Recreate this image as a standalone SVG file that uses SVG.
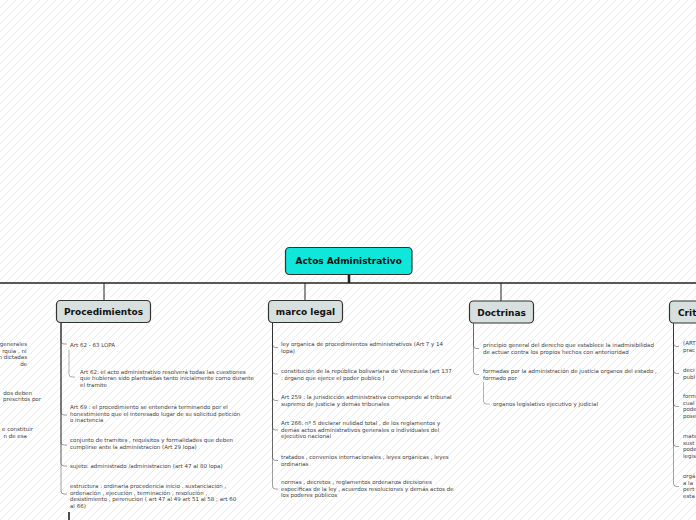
<svg xmlns="http://www.w3.org/2000/svg" width="696" height="520" viewBox="0 0 696 520">
<defs>
<pattern id="hatch" patternUnits="userSpaceOnUse" width="8" height="8">
<path d="M-2,2 L2,-2 M0,8 L8,0 M6,10 L10,6" stroke="#e8e8e8" stroke-width="0.8"/>
</pattern>
<style>
.main{fill:#d7dfdf;stroke:#333;stroke-width:1.2}
.root{fill:#10e6da;stroke:#333;stroke-width:1.2}
.nt{font-family:"DejaVu Sans",Verdana,sans-serif;font-weight:bold;font-size:9px;fill:#111;text-anchor:middle}
.t{font-family:"DejaVu Sans",Verdana,sans-serif;font-size:5.5px;fill:#444}
.te{font-family:"DejaVu Sans",Verdana,sans-serif;font-size:5.5px;fill:#444;text-anchor:end}
.c{fill:none;stroke:rgba(45,45,45,0.45);stroke-width:1}
.sc{fill:none;stroke:rgba(60,60,60,0.4);stroke-width:1}
.hl{fill:none;stroke:#222}
</style>
</defs>
<rect width="696" height="520" fill="#fff"/>
<rect width="696" height="520" fill="url(#hatch)"/>

<g id="connectors">
<path class="hl" stroke-width="1.6" d="M0,283 H696"/>
<path class="hl" stroke-width="2.6" d="M349,275 V283"/>
<path class="hl" stroke-width="1" d="M104,283 V301 M305,283 V301 M501,283 V301"/>
<!-- Procedimientos -->
<path class="c" d="M61,322 V341 Q61,344 64,344 H67"/>
<path class="c" d="M61,322 V412 Q61,415 64,415 H67"/>
<path class="c" d="M61,322 V442 Q61,445 64,445 H67"/>
<path class="c" d="M61,322 V463 Q61,466 64,466 H67"/>
<path class="c" d="M61,322 V491 Q61,494 64,494 H67"/>
<path class="sc" d="M69,350 V374 Q69,377 72,377 H75"/>
<path class="hl" stroke-width="1.6" d="M69,512 V520"/>
<!-- marco legal -->
<path class="c" d="M272.5,322 V344.5 Q272.5,347.5 275.5,347.5 H278"/>
<path class="c" d="M272.5,322 V371 Q272.5,374 275.5,374 H278"/>
<path class="c" d="M272.5,322 V397.5 Q272.5,400.5 275.5,400.5 H278"/>
<path class="c" d="M272.5,322 V427 Q272.5,430 275.5,430 H278"/>
<path class="c" d="M272.5,322 V457.5 Q272.5,460.5 275.5,460.5 H278"/>
<path class="c" d="M272.5,322 V486 Q272.5,489 275.5,489 H278"/>
<!-- Doctrinas -->
<path class="c" d="M473.5,323 V345.5 Q473.5,348.5 476.5,348.5 H479"/>
<path class="c" d="M473.5,323 V371.5 Q473.5,374.5 476.5,374.5 H479"/>
<path class="sc" d="M483.5,382 V401 Q483.5,404 486.5,404 H490"/>
<!-- Crit -->
<path class="c" d="M673.5,323 V343.5 Q673.5,346.5 676.5,346.5 H679"/>
<path class="c" d="M673.5,323 V370.5 Q673.5,373.5 676.5,373.5 H679"/>
<path class="c" d="M673.5,323 V403.5 Q673.5,406.5 676.5,406.5 H679"/>
<path class="c" d="M673.5,323 V443.5 Q673.5,446.5 676.5,446.5 H679"/>
<path class="c" d="M673.5,323 V483.5 Q673.5,486.5 676.5,486.5 H679"/>
</g>

<g id="root">
<rect class="root" x="285.5" y="247.5" width="126.5" height="27" rx="4"/>
<text class="nt" x="348.7" y="264.3">Actos Administrativo</text>
</g>

<g id="procedimientos">
<rect class="main" x="56.5" y="300.5" width="94" height="22" rx="4"/>
<text class="nt" x="103.5" y="315">Procedimientos</text>
</g>
<g id="marco-legal">
<rect class="main" x="268.5" y="300.5" width="74" height="22" rx="4"/>
<text class="nt" x="305.5" y="315">marco legal</text>
</g>
<g id="doctrinas">
<rect class="main" x="469.5" y="301" width="64" height="22" rx="4"/>
<text class="nt" x="501.5" y="315.5">Doctrinas</text>
</g>
<g id="crit">
<rect class="main" x="669.5" y="301" width="60" height="22" rx="4"/>
<text class="nt" x="678" y="315.5" style="text-anchor:start">Crit</text>
</g>

<g id="left-topics">
<text class="te" x="27" y="346">generales</text>
<text class="te" x="26.5" y="352.7">rquia , ni</text>
<text class="te" x="27" y="359.4">n dictadas</text>
<text class="te" x="27" y="366.1">de</text>
<text class="te" x="32" y="394.5">dos deben</text>
<text class="te" x="41" y="401.2">prescritos por</text>
<text class="te" x="33" y="431">e constituir</text>
<text class="te" x="27" y="437.7">n de esa</text>
</g>

<g id="p1"><text class="t" x="70" y="346.5">Art 62 - 63 LOPA</text></g>
<g id="p1a"><text class="t" x="80" y="373.5">Art 62: el acto administrativo resolverá todas las cuestiones<tspan x="80" dy="6.7">que hubieran sido planteadas tanto inicialmente como durante</tspan><tspan x="80" dy="6.7">el tramite</tspan></text></g>
<g id="p2"><text class="t" x="70" y="409">Art 69 : el procedimiento se entenderá terminando por el<tspan x="70" dy="6.7">honestimiento que el interesado lugar de su solicitud petición</tspan><tspan x="70" dy="6.7">o inactencia</tspan></text></g>
<g id="p3"><text class="t" x="70" y="442">conjunto de tramites , requisitos y formalidades que deben<tspan x="70" dy="6.7">cumplirse ante la administracion (Art 29 lopa)</tspan></text></g>
<g id="p4"><text class="t" x="70" y="468">sujeto: administrado /administracion (art 47 al 80 lopa)</text></g>
<g id="p5"><text class="t" x="70" y="488">estructura : ordinaria procedencia inicio . sustanciación ,<tspan x="70" dy="6.7">ordenación , ejecución , terminación , resolución ,</tspan><tspan x="70" dy="6.7">desistimiento , perenucion ( art 47 al 49 art 51 al 58 ; art 60</tspan><tspan x="70" dy="6.7">al 66)</tspan></text></g>

<g id="m1"><text class="t" x="281" y="346">ley organica de procedimientos administrativos (Art 7 y 14<tspan x="281" dy="6.7">lopa)</tspan></text></g>
<g id="m2"><text class="t" x="281" y="373">constitución de la república bolivariana de Venezuela (art 137<tspan x="281" dy="6.7">: órgano que ejerce el poder publico )</tspan></text></g>
<g id="m3"><text class="t" x="281" y="399">Art 259 : la jurisdicción administrativa corresponde al tribunal<tspan x="281" dy="6.7">supremo de justicia y demás tribunales</tspan></text></g>
<g id="m4"><text class="t" x="281" y="425">Art 266: nº 5 declarar nulidad total , de los reglamentos y<tspan x="281" dy="6.7">demás actos administrativos generales o individuales del</tspan><tspan x="281" dy="6.7">ejecutivo nacional</tspan></text></g>
<g id="m5"><text class="t" x="281" y="459">tratados , convenios internacionales , leyes orgánicas , leyes<tspan x="281" dy="6.7">ordinarias</tspan></text></g>
<g id="m6"><text class="t" x="281" y="484">normas , decretos , reglamentos ordenanza decisiones<tspan x="281" dy="6.7">especificas de la ley , acuerdos resoluciones y demás actos de</tspan><tspan x="281" dy="6.7">los poderes públicos</tspan></text></g>

<g id="d1"><text class="t" x="483" y="347">principio general del derecho que establece la inadmisibilidad<tspan x="483" dy="6.7">de actuar contra los propios hechos con anterioridad</tspan></text></g>
<g id="d2"><text class="t" x="483" y="373">formadas por la administración de justicia organos del estado ,<tspan x="483" dy="6.7">formado por</tspan></text></g>
<g id="d2a"><text class="t" x="493" y="406">organos legislativo ejecutivo y judicial</text></g>

<g id="c1"><text class="t" x="683" y="345">(ART<tspan x="683" dy="6.7">prac</tspan></text></g>
<g id="c2"><text class="t" x="683" y="372">deci<tspan x="683" dy="6.7">publ</tspan></text></g>
<g id="c3"><text class="t" x="683" y="398">form<tspan x="683" dy="6.7">cual</tspan><tspan x="683" dy="6.7">pode</tspan><tspan x="683" dy="6.7">pose</tspan></text></g>
<g id="c4"><text class="t" x="683" y="438">mate<tspan x="683" dy="6.7">sust</tspan><tspan x="683" dy="6.7">pode</tspan><tspan x="683" dy="6.7">legis</tspan></text></g>
<g id="c5"><text class="t" x="683" y="478">orgá<tspan x="683" dy="6.7">a la</tspan><tspan x="683" dy="6.7">pert</tspan><tspan x="683" dy="6.7">esta</tspan></text></g>
</svg>
